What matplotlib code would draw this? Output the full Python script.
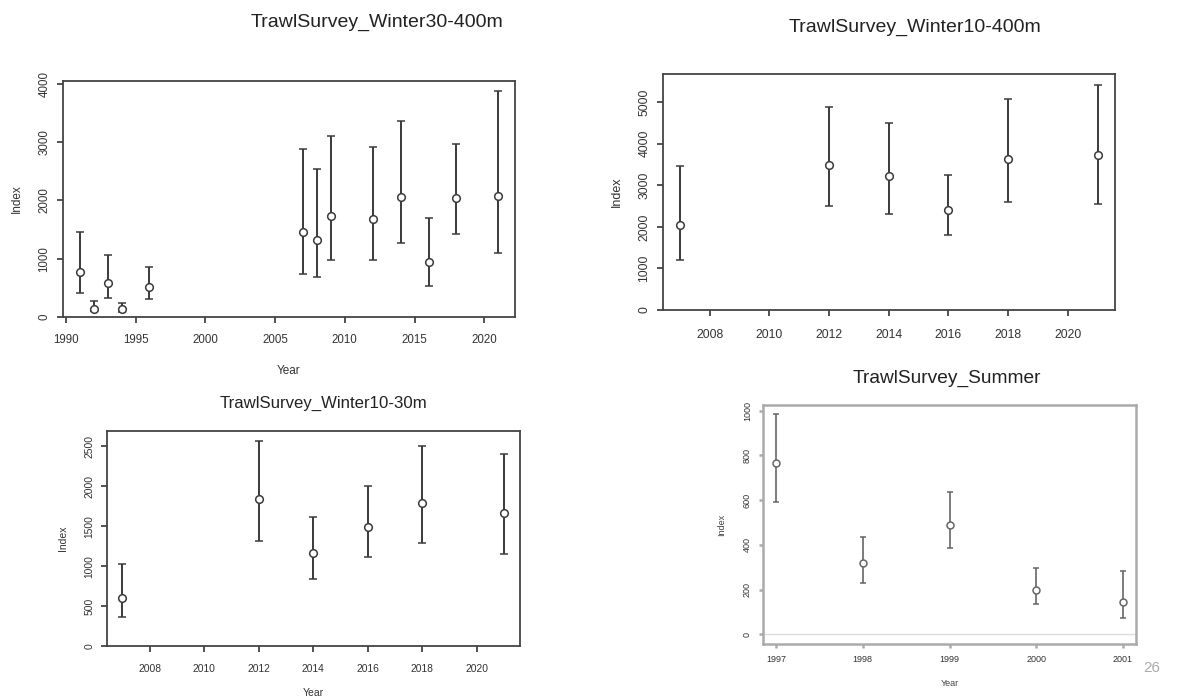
import matplotlib
matplotlib.use('Agg')
import matplotlib.pyplot as plt

FONT = ['Liberation Sans', 'DejaVu Sans']
plt.rcParams['font.family'] = FONT

# TrawlSurvey_Winter30-400m
w30_years = [1991, 1992, 1993, 1994, 1996, 2007, 2008, 2009, 2012, 2014, 2016, 2018, 2021]
w30_index = [770, 145, 580, 130, 515, 1455, 1315, 1730, 1675, 2055, 945, 2040, 2070]
w30_low = [410, 100, 325, 85, 315, 745, 685, 970, 985, 1275, 535, 1415, 1105]
w30_high = [1455, 270, 1065, 240, 860, 2885, 2545, 3100, 2915, 3360, 1695, 2960, 3875]

# TrawlSurvey_Winter10-400m
w10_years = [2007, 2012, 2014, 2016, 2018, 2021]
w10_index = [2040, 3500, 3215, 2415, 3630, 3720]
w10_low = [1200, 2510, 2310, 1800, 2600, 2550]
w10_high = [3470, 4880, 4495, 3240, 5070, 5415]

# TrawlSurvey_Winter10-30m
s30_years = [2007, 2012, 2014, 2016, 2018, 2021]
s30_index = [600, 1835, 1160, 1490, 1790, 1660]
s30_low = [360, 1315, 835, 1115, 1290, 1150]
s30_high = [1025, 2565, 1615, 2000, 2500, 2410]

# TrawlSurvey_Summer
sum_years = [1997, 1998, 1999, 2000, 2001]
sum_index = [765, 320, 490, 200, 145]
sum_low = [590, 230, 385, 135, 75]
sum_high = [985, 435, 635, 295, 285]

W, H = 1201, 699
fig = plt.figure(figsize=(W / 100, H / 100), dpi=100)
fig.patch.set_facecolor('white')


def add_panel(left, top, right, bottom):
    return fig.add_axes([left / W, 1 - bottom / H, (right - left) / W, (bottom - top) / H])


def draw(ax, years, idx, low, high, col='#3a3a3a', ms=5.5, cap=3, lw=1.4):
    yerr = [[i - l for i, l in zip(idx, low)], [h - i for i, h in zip(idx, high)]]
    ax.errorbar(years, idx, yerr=yerr, fmt='o', color=col, ecolor=col, elinewidth=lw,
                capsize=cap, capthick=lw, mfc='white', mec=col, mew=1.1, ms=ms)


def style(ax, fs, col='#444444', lw=1.3, xpad=8, ypad=4, tl=4):
    for s in ax.spines.values():
        s.set_color(col)
        s.set_linewidth(lw)
    ax.tick_params(colors=col, labelcolor='#333333', labelsize=fs, length=tl, width=lw)
    ax.tick_params(axis='x', pad=xpad)
    ax.tick_params(axis='y', pad=ypad)
    for t in ax.get_yticklabels():
        t.set_rotation(90)
        t.set_va('center')


# panel 1
ax1 = add_panel(63, 81, 515, 317)
draw(ax1, w30_years, w30_index, w30_low, w30_high)
ax1.set_xlim(1989.8, 2022.2)
ax1.set_ylim(0, 4046)
ax1.set_xticks(range(1990, 2021, 5))
ax1.set_yticks(range(0, 4001, 1000))
style(ax1, 8.3, xpad=8, ypad=5)
ax1.set_xlabel('Year', fontsize=8.5, color='#333333', labelpad=14)
ax1.set_ylabel('Index', fontsize=8.5, color='#333333', labelpad=11)
fig.text(377 / W, 1 - 22 / H, 'TrawlSurvey_Winter30-400m', fontsize=14, color='#222222',
         ha='center', va='center')

# panel 2
ax2 = add_panel(663, 74, 1115, 310)
draw(ax2, w10_years, w10_index, w10_low, w10_high)
ax2.set_xlim(2006.44, 2021.58)
ax2.set_ylim(0, 5680)
ax2.set_xticks(range(2008, 2021, 2))
ax2.set_yticks(range(0, 5001, 1000))
style(ax2, 8.7, xpad=10, ypad=5)
ax2.set_ylabel('Index', fontsize=9, color='#333333', labelpad=11)
fig.text(915 / W, 1 - 27 / H, 'TrawlSurvey_Winter10-400m', fontsize=14, color='#222222',
         ha='center', va='center')

# panel 3
ax3 = add_panel(107, 431, 520, 646)
draw(ax3, s30_years, s30_index, s30_low, s30_high)
ax3.set_xlim(2006.44, 2021.58)
ax3.set_ylim(0, 2692)
ax3.set_xticks(range(2008, 2021, 2))
ax3.set_yticks(range(0, 2501, 500))
style(ax3, 7.4, xpad=9, ypad=5)
ax3.set_xlabel('Year', fontsize=7.5, color='#333333', labelpad=10)
ax3.set_ylabel('Index', fontsize=7.5, color='#333333', labelpad=12)
fig.text(323 / W, 1 - 403 / H, 'TrawlSurvey_Winter10-30m', fontsize=12.1, color='#222222',
         ha='center', va='center')

# panel 4
ax4 = add_panel(763, 405, 1136, 644)
ax4.axhline(0, color='#dddddd', lw=1)
draw(ax4, sum_years, sum_index, sum_low, sum_high, col='#666666', ms=5, cap=2, lw=1.2)
ax4.set_xlim(1996.85, 2001.15)
ax4.set_ylim(-43, 1025)
ax4.set_xticks(sum_years)
ax4.set_yticks(range(0, 1001, 200))
style(ax4, 6.5, col='#aaaaaa', lw=1.8, xpad=5, ypad=5, tl=3)
ax4.set_xlabel('Year', fontsize=6.5, color='#444444', labelpad=11)
ax4.set_ylabel('Index', fontsize=6.5, color='#444444', labelpad=12)
fig.text(947 / W, 1 - 378 / H, 'TrawlSurvey_Summer', fontsize=13.8, color='#222222',
         ha='center', va='center')
fig.text(1152 / W, 1 - 668 / H, '26', fontsize=11, color='#aaaaaa', ha='center', va='center')

fig.savefig('out.png', dpi=100)
